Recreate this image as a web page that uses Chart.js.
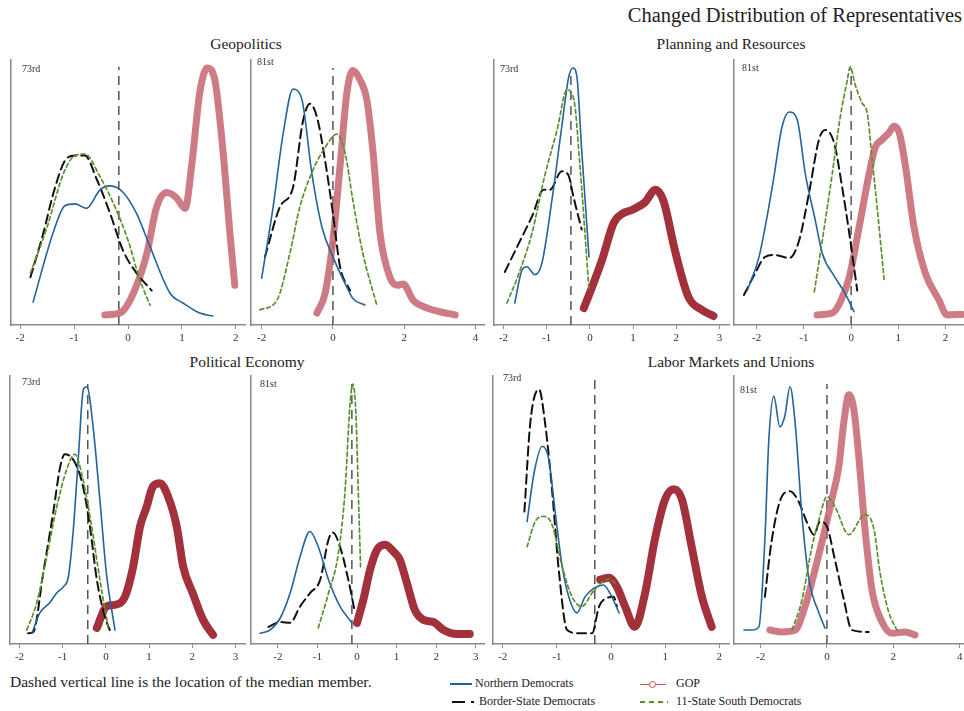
<!DOCTYPE html>
<html>
<head>
<meta charset="utf-8">
<title>Changed Distribution of Representatives</title>
<script src="https://cdn.jsdelivr.net/npm/chart.js@4.4.1/dist/chart.umd.min.js"></script>
<style>
  body { margin: 0; background: #fff; font-family: 'Liberation Serif', 'Times New Roman', serif; color: #222; }
  #page { position: relative; width: 964px; height: 711px; overflow: hidden; background: #fff; }
  #page canvas { position: absolute; }
  .mainTitle { position: absolute; right: 2px; top: 4px; font-size: 20.5px; white-space: nowrap; }
  .panelTitle { position: absolute; width: 400px; text-align: center; font-size: 15.5px; white-space: nowrap; }
  .session { position: absolute; font-size: 10px; color: #333; }
  .note { position: absolute; left: 10px; top: 673px; font-size: 15.5px; white-space: nowrap; }
  .item { position: absolute; font-size: 12px; white-space: nowrap; line-height: 14px; }
  .swatch { display: inline-block; vertical-align: middle; height: 2px; margin-right: 3px; position: relative; }
  .sw-north { width: 22px; background: #24649b; }
  .sw-border { width: 24px; background: linear-gradient(to right, #111 0 13px, transparent 13px 19px, #111 19px 22px, transparent 22px); }
  .sw-gop { width: 26px; height: 1px; background: #c0505a; margin-right: 10px; }
  .sw-gop::after { content: ''; position: absolute; left: 9px; top: -3px; width: 5px; height: 5px; border: 1px solid #c0505a; border-radius: 50%; background: #fff; }
  .sw-south { width: 28px; background: repeating-linear-gradient(to right, #5e8f2e 0 5px, transparent 5px 9px); margin-right: 8px; }
</style>
</head>
<body>
<div id="page">
  <div class="mainTitle">Changed Distribution of Representatives</div>
  <div class="panelTitle" style="left:46px;top:35px">Geopolitics</div>
  <div class="panelTitle" style="left:531px;top:35px">Planning and Resources</div>
  <div class="panelTitle" style="left:47px;top:353px">Political Economy</div>
  <div class="panelTitle" style="left:531px;top:353px">Labor Markets and Unions</div>
  <div class="note">Dashed vertical line is the location of the median member.</div>
  <div class="item" style="left:450px;top:676px"><span class="swatch sw-north"></span>Northern Democrats</div>
  <div class="item" style="left:640px;top:676px"><span class="swatch sw-gop"></span>GOP</div>
  <div class="item" style="left:452px;top:694px"><span class="swatch sw-border"></span>Border-State Democrats</div>
  <div class="item" style="left:640px;top:694px"><span class="swatch sw-south"></span>11-State South Democrats</div>
</div>
<script>
'use strict';

// density curves: [ideal point, height in % of panel]
let geo73North = [[-1.76, 8.7], [-1.39, 34.7], [-1.17, 45], [-0.98, 45.7], [-0.77, 44], [-0.52, 51], [-0.33, 52.5], [-0.09, 50], [0.16, 42], [0.41, 29.5], [0.78, 12], [1.02, 8.3], [1.33, 4.5], [1.57, 3.4]];
let geo73Border = [[-1.81, 18], [-1.57, 34.7], [-1.38, 50], [-1.17, 62], [-0.98, 64], [-0.8, 64], [-0.58, 55], [-0.33, 42], [-0.09, 28], [0.16, 19.6], [0.44, 13]];
let geo73South = [[-1.81, 19.6], [-1.5, 37], [-1.2, 57], [-0.98, 64], [-0.8, 64.5], [-0.52, 56], [-0.24, 44.5], [0, 32], [0.22, 17], [0.41, 7.5]];
let geo73Gop = [[-0.43, 3.8], [-0.15, 4.5], [0.1, 12], [0.35, 27], [0.53, 44.5], [0.72, 50], [0.9, 48], [1.06, 44], [1.18, 60], [1.33, 87.5], [1.47, 97], [1.61, 92.5], [1.76, 66], [1.89, 34.7], [1.98, 15]];

let geo81North = [[-2.0, 17.7], [-1.68, 44.5], [-1.4, 72], [-1.12, 89], [-0.87, 85], [-0.59, 57], [-0.31, 37], [0, 25.7], [0.39, 14.3], [0.56, 10], [0.9, 7.5]];
let geo81Border = [[-1.91, 25.7], [-1.49, 44.5], [-1.12, 52], [-0.84, 77], [-0.65, 83.5], [-0.45, 78.5], [-0.22, 62], [0, 42], [0.2, 22], [0.48, 13]];
let geo81South = [[-2.05, 5.7], [-1.57, 9.4], [-1.21, 27], [-0.93, 44.5], [-0.56, 58.5], [-0.22, 67], [0.11, 72], [0.34, 65], [0.56, 47], [0.84, 27], [1.23, 7.5]];
let geo81Gop = [[-0.45, 4.5], [-0.22, 12], [0, 32], [0.2, 60], [0.39, 87.5], [0.56, 96], [0.76, 92.5], [0.95, 85], [1.12, 66], [1.32, 34.7], [1.6, 18], [1.8, 15], [1.97, 15.5], [2.25, 9.4], [2.64, 6.4], [3.0, 5], [3.43, 3.8]];

let plan73North = [[-1.74, 8.3], [-1.57, 20.8], [-1.46, 22], [-1.27, 19], [-1.11, 23.4], [-0.88, 47], [-0.65, 75], [-0.49, 93.6], [-0.39, 97], [-0.3, 93.6], [-0.19, 66], [-0.02, 25.7]];
let plan73Border = [[-1.97, 20], [-1.64, 31], [-1.34, 41], [-1.07, 51], [-0.93, 51], [-0.65, 58], [-0.5, 56.6], [-0.38, 48.3], [-0.19, 36]];
let plan73South = [[-1.92, 8.3], [-1.64, 19.6], [-1.34, 34.7], [-1.05, 56], [-0.76, 73.6], [-0.53, 88.7], [-0.37, 85], [-0.23, 60], [-0.02, 13]];
let plan73Gop = [[-0.14, 6.4], [0.05, 14.3], [0.28, 24.5], [0.55, 38.5], [0.75, 42], [0.97, 43.4], [1.28, 46.4], [1.51, 51], [1.7, 47], [1.97, 28], [2.28, 10.6], [2.59, 5.7], [2.86, 3.4]];

let plan81North = [[-2.2, 13], [-1.95, 25.7], [-1.67, 52], [-1.46, 75], [-1.31, 80.4], [-1.14, 77.4], [-0.97, 57], [-0.76, 39.6], [-0.61, 27], [-0.34, 18], [-0.13, 12], [0.06, 5]];
let plan81Border = [[-2.27, 11.3], [-2.03, 19.6], [-1.82, 25.7], [-1.61, 26.4], [-1.31, 25.3], [-1.1, 32], [-0.89, 50], [-0.68, 70], [-0.55, 73.6], [-0.36, 68.7], [-0.19, 52], [-0.04, 34.7], [0.13, 13]];
let plan81South = [[-0.78, 12.5], [-0.61, 32], [-0.4, 57], [-0.23, 78.5], [-0.08, 92.5], [-0.02, 97.4], [0.08, 91], [0.23, 83.8], [0.34, 80], [0.44, 63.4], [0.55, 44.5], [0.7, 17]];
let plan81Gop = [[-0.72, 3.8], [-0.4, 4.5], [-0.23, 8.7], [-0.04, 18], [0.17, 37], [0.38, 57], [0.51, 67], [0.66, 70], [0.8, 72.5], [0.91, 75], [1.02, 72.5], [1.15, 60], [1.33, 37], [1.57, 19.6], [1.86, 9.4], [2.03, 3.8], [2.35, 4]];

let pol73North = [[-1.71, 4], [-1.53, 11.6], [-1.3, 15.4], [-1.14, 19], [-0.99, 21.3], [-0.87, 25], [-0.76, 41.6], [-0.64, 69], [-0.52, 95], [-0.44, 96], [-0.29, 80], [-0.14, 54], [0.01, 26.6], [0.21, 5.2]];
let pol73Border = [[-1.8, 4], [-1.68, 4.5], [-1.45, 26.6], [-1.22, 49], [-1.06, 66], [-0.95, 70.8], [-0.72, 67.8], [-0.53, 58.8], [-0.37, 43.8], [-0.21, 24], [-0.02, 10], [0.09, 5.2]];
let pol73South = [[-1.83, 5.2], [-1.6, 15.4], [-1.37, 32.6], [-1.14, 51], [-0.91, 65], [-0.72, 70.8], [-0.53, 61.4], [-0.33, 43.8], [-0.14, 24], [0.05, 6.4]];
let pol73Gop = [[-0.21, 6], [0.01, 14], [0.2, 14.6], [0.44, 17.6], [0.63, 28.8], [0.79, 43.8], [0.94, 51], [1.09, 58.8], [1.25, 60], [1.44, 55], [1.64, 43.8], [1.79, 28.8], [2.01, 19], [2.25, 9], [2.48, 3.4]];

let pol81North = [[-2.45, 4], [-2.2, 5.2], [-1.94, 9.7], [-1.69, 19], [-1.44, 32.6], [-1.19, 42], [-0.98, 36.3], [-0.72, 24], [-0.43, 14], [-0.13, 7.9]];
let pol81Border = [[-2.24, 6.4], [-1.94, 8.2], [-1.69, 7.9], [-1.44, 14], [-1.19, 19], [-0.93, 24], [-0.72, 39], [-0.61, 41.6], [-0.43, 36.3], [-0.22, 24], [-0.05, 11.6]];
let pol81South = [[-0.98, 6], [-0.72, 19], [-0.47, 34], [-0.3, 57.7], [-0.18, 88.8], [-0.11, 97], [-0.03, 86.5], [0.03, 57.7], [0.09, 28.8]];
let pol81Gop = [[0, 7.9], [0.16, 16.5], [0.33, 27.7], [0.5, 35], [0.71, 37], [0.92, 34.5], [1.08, 31.5], [1.26, 22.8], [1.46, 12.7], [1.68, 9], [1.93, 8.2], [2.19, 5.2], [2.52, 3.7], [2.85, 3.7]];

let lab73North = [[-1.55, 45.7], [-1.42, 64], [-1.27, 73.8], [-1.15, 69], [-1.03, 49], [-0.9, 28.8], [-0.78, 17.6], [-0.63, 11.6], [-0.48, 17.6], [-0.3, 21], [-0.14, 22], [-0.02, 19], [0.15, 11.6]];
let lab73Border = [[-1.6, 49.4], [-1.49, 82.8], [-1.33, 95], [-1.22, 82.8], [-1.09, 57.7], [-0.96, 26.6], [-0.81, 5.2], [-0.59, 4], [-0.35, 4], [-0.22, 14], [-0.07, 17.2], [0.05, 17.6], [0.11, 14]];
let lab73South = [[-1.55, 36.3], [-1.4, 45.7], [-1.24, 47.6], [-1.09, 44.6], [-0.9, 28.8], [-0.72, 17.6], [-0.54, 14], [-0.35, 19], [-0.17, 23], [-0.02, 24.3], [0.07, 22.8]];
let lab73Gop = [[-0.2, 24], [-0.04, 24.7], [0.11, 21.3], [0.26, 14], [0.44, 6.4], [0.63, 19], [0.81, 39], [1.0, 54], [1.16, 57.7], [1.31, 54], [1.49, 36.3], [1.68, 17.6], [1.86, 6.4]];

let lab81North = [[-2.5, 5.2], [-2.26, 5.2], [-2.05, 6.4], [-1.87, 39], [-1.75, 76.4], [-1.6, 92.5], [-1.42, 81], [-1.27, 85], [-1.11, 96], [-0.96, 82.8], [-0.75, 47.6], [-0.54, 24], [-0.24, 11.6], [-0.06, 6]];
let lab81Border = [[-1.87, 17.6], [-1.66, 39], [-1.36, 55], [-1.11, 57], [-0.84, 52.8], [-0.6, 45.3], [-0.39, 40.8], [-0.21, 45.7], [0, 43.8], [0.24, 31.5], [0.51, 16.5], [0.75, 5.2], [1.26, 4.5]];
let lab81South = [[-1.05, 5.2], [-0.75, 16.5], [-0.45, 36.3], [-0.24, 46.4], [0, 55], [0.24, 51.3], [0.66, 40.8], [1.14, 48.3], [1.42, 42.7], [1.6, 26.6], [1.87, 11.6], [2.11, 5.2]];
let lab81Gop = [[-1.72, 5.2], [-1.36, 4.5], [-0.96, 5.2], [-0.66, 14], [-0.36, 27.7], [-0.06, 42.7], [0.15, 54], [0.36, 66.3], [0.51, 82.8], [0.66, 93], [0.81, 87.6], [0.96, 70], [1.14, 43.8], [1.36, 20], [1.66, 8.2], [1.96, 4], [2.35, 4.5], [2.65, 3.4]];

// median member, and the top of its dashed line
let medianLine = [-0.17, 0, -0.44, 0, -0.42, -0.13, -0.3, 0];
let medianTop = [97.5, 97, 96, 97, 97, 97, 99, 97];

let sessionLabels = ['73rd', '81st', '73rd', '81st', '73rd', '81st', '73rd', '81st'];
let xMin = [-2.17, -2.3, -2.22, -2.48, -2.22, -2.68, -2.18, -2.8];
let xMax = [2.17, 4.24, 3.22, 2.39, 3.22, 3.21, 2.18, 4.13];
let xStep = [1, 2, 1, 1, 1, 1, 1, 2];

let panels = [
  [geo73North, geo73Border, geo73South, geo73Gop],
  [geo81North, geo81Border, geo81South, geo81Gop],
  [plan73North, plan73Border, plan73South, plan73Gop],
  [plan81North, plan81Border, plan81South, plan81Gop],
  [pol73North, pol73Border, pol73South, pol73Gop],
  [pol81North, pol81Border, pol81South, pol81Gop],
  [lab73North, lab73Border, lab73South, lab73Gop],
  [lab81North, lab81Border, lab81South, lab81Gop]
];

// plot areas on the page: left, top, width, height
let boxes = [
  [11, 60, 234, 265], [251, 60, 233, 265], [494, 60, 235, 265], [734, 60, 230, 265],
  [10, 376, 235, 268], [251, 376, 233, 268], [493, 376, 236, 268], [734, 376, 230, 268]
];
let labelSpots = [[22, 63], [257, 56], [500, 63], [742, 62], [22, 376], [260, 378], [503, 372], [740, 384]];
let lightGop = [true, true, false, true, false, false, false, true];

const page = document.getElementById('page');
const axisGray = '#8a8a8a';
const xAxisHeight = 24;
const pad = 14;

Chart.defaults.font.family = "'Liberation Serif', 'Times New Roman', serif";
Chart.defaults.font.size = 11;
Chart.defaults.color = '#333';

function toPoints(arr) {
  return arr.map(function (p) { return { x: p[0], y: p[1] }; });
}

function curve(label, arr, color, width, dash, order) {
  return {
    label: label,
    data: toPoints(arr),
    borderColor: color,
    borderWidth: width,
    borderDash: dash,
    pointRadius: 0,
    cubicInterpolationMode: 'monotone',
    borderCapStyle: 'round',
    borderJoinStyle: 'round',
    fill: false,
    order: order
  };
}

function makePanel(i) {
  let box = boxes[i];
  let canvas = document.createElement('canvas');
  canvas.width = box[2] + 2 * pad;
  canvas.height = box[3] + xAxisHeight + pad;
  canvas.style.left = (box[0] - pad) + 'px';
  canvas.style.top = (box[1] - pad) + 'px';
  page.appendChild(canvas);

  let tag = document.createElement('div');
  tag.className = 'session';
  tag.textContent = sessionLabels[i];
  tag.style.left = labelSpots[i][0] + 'px';
  tag.style.top = labelSpots[i][1] + 'px';
  page.appendChild(tag);

  let set = panels[i];
  let gopColor = lightGop[i] ? 'rgba(196, 100, 110, 0.85)' : '#a3313b';
  let gopWidth = lightGop[i] ? 7 : 8;

  new Chart(canvas.getContext('2d'), {
    type: 'line',
    data: {
      datasets: [
        {
          label: 'median',
          data: [{ x: medianLine[i], y: 0 }, { x: medianLine[i], y: medianTop[i] }],
          borderColor: '#555',
          borderWidth: 1.5,
          borderDash: [9, 6],
          pointRadius: 0,
          tension: 0,
          order: 5
        },
        curve('Northern Democrats', set[0], '#24649b', 1.6, [], 2),
        curve('Border-State Democrats', set[1], '#111', 2, [9, 5], 3),
        curve('11-State South Democrats', set[2], '#5e8f2e', 1.7, [4, 3], 1),
        curve('GOP', set[3], gopColor, gopWidth, [], 4)
      ]
    },
    options: {
      responsive: false,
      animation: false,
      events: [],
      layout: { padding: { left: pad, right: pad, top: pad, bottom: 0 } },
      plugins: { legend: { display: false }, tooltip: { enabled: false } },
      scales: {
        x: {
          type: 'linear',
          min: xMin[i],
          max: xMax[i],
          afterFit: function (scale) { scale.height = xAxisHeight; },
          ticks: { stepSize: xStep[i], includeBounds: false, autoSkip: false, maxRotation: 0, color: '#333', padding: 3 },
          grid: { display: true, drawOnChartArea: false, drawTicks: true, tickLength: 4, color: axisGray },
          border: { display: true, color: axisGray, width: 1.5 }
        },
        y: {
          min: 0,
          max: 100,
          afterFit: function (scale) { scale.width = 0; },
          ticks: { display: false },
          grid: { display: false, drawTicks: false },
          border: { display: true, color: axisGray, width: 1.5 }
        }
      }
    }
  });
}

for (let i = 0; i < panels.length; i++) {
  makePanel(i);
}
</script>
</body>
</html>
